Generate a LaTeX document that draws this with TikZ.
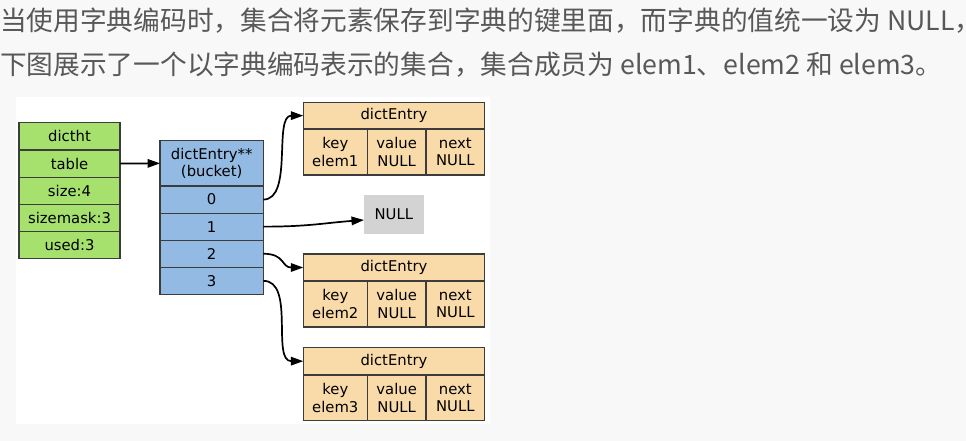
\documentclass[tikz,border=0pt]{standalone}
\usepackage{fontspec}
\newfontfamily\cjk{Noto Sans CJK SC}
\newfontfamily\dv{DejaVu Sans}
\usetikzlibrary{arrows.meta}
\definecolor{pagebg}{HTML}{F8F8F8}
\definecolor{txtgray}{HTML}{585858}
\definecolor{htgreen}{HTML}{A6E16D}
\definecolor{bkblue}{HTML}{93BAE2}
\definecolor{enttan}{HTML}{F9DBA9}
\definecolor{nullgray}{HTML}{D3D3D3}
\definecolor{edgecol}{HTML}{3C3C3C}
\tikzset{
  para/.style={anchor=base west, inner sep=0pt, font=\cjk\fontsize{26.7}{32}\selectfont, text=txtgray},
  cell/.style={draw=edgecol, line width=1.2pt, inner sep=0pt, outer sep=0pt,
    font=\dv\fontsize{14.8}{17.6}\selectfont, align=center, text=black},
  htcell/.style={cell, fill=htgreen, minimum width=101pt, minimum height=27.2pt},
  bkcell/.style={cell, fill=bkblue, minimum width=103.3pt, minimum height=27.1pt},
  entcell/.style={cell, fill=enttan},
  nullbox/.style={fill=nullgray, inner sep=0pt, outer sep=0pt, minimum width=59.7pt, minimum height=39.6pt,
    font=\dv\fontsize{14.8}{17.6}\selectfont, text=black},
  arr/.style={draw=black, line width=1.7pt, -{Triangle[length=12.5pt,width=8.5pt]}}
}
\begin{document}
\begin{tikzpicture}[x=1pt,y=-1pt]
\useasboundingbox (0,0) rectangle (966,441);
\fill[pagebg] (0,0) rectangle (966,441);
\fill[white] (16,97) rectangle (490,424);

\node[para] (l1) at (0,31) {当使用字典编码时，集合将元素保存到字典的键里面，而字典的值统一设为 NULL，};
\node[para] (l2) at (0,75) {下图展示了一个以字典编码表示的集合，集合成员为 elem1、elem2 和 elem3。};

% dictht
\node[htcell] (ht0) at (69.5,136.3) {dictht};
\node[htcell] (ht1) at (69.5,163.5) {table};
\node[htcell] (ht2) at (69.5,190.7) {size:4};
\node[htcell] (ht3) at (69.5,217.9) {sizemask:3};
\node[htcell] (ht4) at (69.5,245.1) {used:3};

% bucket
\node[bkcell, minimum height=45.3pt] (bkh) at (211.7,163.35) {dictEntry**\\(bucket)};
\node[bkcell] (bk0) at (211.7,199.55) {0};
\node[bkcell] (bk1) at (211.7,226.65) {1};
\node[bkcell] (bk2) at (211.7,253.75) {2};
\node[bkcell] (bk3) at (211.7,280.85) {3};

% NULL
\node[nullbox] (nul) at (393.85,214.5) {NULL};

% dictEntry boxes
\foreach \i/\hy/\hh/\ly/\lh in {1/115.65/26.7/152/46, 2/267.5/27/304/46, 3/361.15/27.7/397.85/45.7}{
  \node[entcell, minimum width=181.4pt, minimum height=\hh pt] (e\i h) at (394,\hy) {dictEntry};
  \node[entcell, minimum width=64pt, minimum height=\lh pt] (e\i k) at (335.3,\ly) {key\\elem\i};
  \node[entcell, minimum width=58.7pt, minimum height=\lh pt] (e\i v) at (396.65,\ly) {value\\NULL};
  \node[entcell, minimum width=58.7pt, minimum height=\lh pt] (e\i n) at (455.35,\ly) {next\\NULL};
}

\coordinate (nulin) at ([yshift=-5.5pt]nul.west);

% connectors
\draw[arr] (ht1.east) -- (bkh.west);
\draw[arr] (bk0.east) .. controls +(30,0) and +(-30,0) .. (e1h.west);
\draw[arr] (bk1.east) .. controls +(45,0) and +(-40,3) .. (nulin);
\draw[arr] (bk2.east) .. controls +(22,0) and +(-22,0) .. (e2h.west);
\draw[arr] (bk3.east) .. controls +(32,0) and +(-32,0) .. (e3h.west);
\end{tikzpicture}
\end{document}
